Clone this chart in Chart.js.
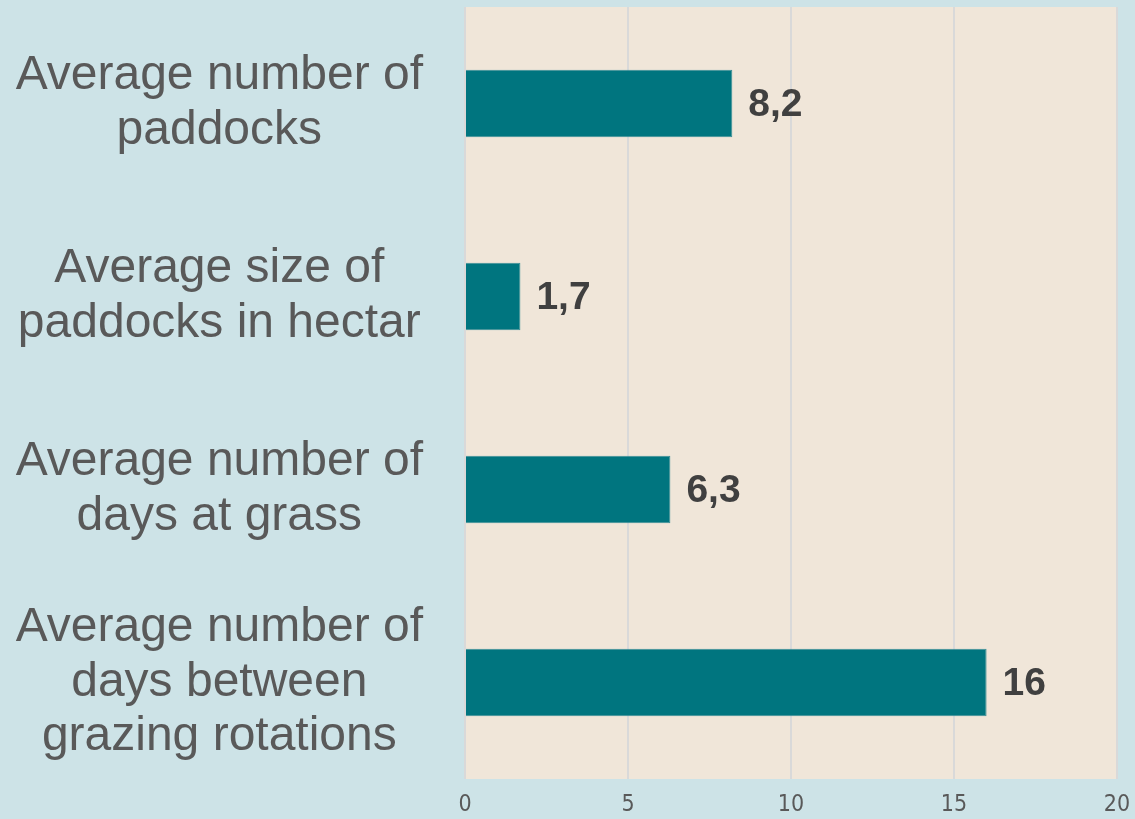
<!DOCTYPE html>
<html>
<head>
<meta charset="utf-8">
<script src="https://cdn.jsdelivr.net/npm/chart.js@4"></script>
<style>
  body { margin: 0; background: #cde3e7; }
  #wrap { width: 1135px; height: 819px; }
</style>
</head>
<body>
<div id="wrap"><canvas id="grazing" width="1135" height="819"></canvas></div>
<script>
const labels = [
  ["Average number of", "paddocks"],
  ["Average size of", "paddocks in hectar"],
  ["Average number of", "days at grass"],
  ["Average number of", "days between", "grazing rotations"]
];
const values = [8.2, 1.7, 6.3, 16];
const xTicks = [0, 5, 10, 15, 20];

// beige plot area behind the bars
const plotBg = {
  id: "plotBg",
  beforeDraw(chart) {
    const a = chart.chartArea;
    const ctx = chart.ctx;
    ctx.save();
    ctx.fillStyle = "#f0e6d9";
    ctx.fillRect(a.left, a.top, a.right - a.left, a.bottom - a.top);
    ctx.restore();
  }
};

// value labels at the end of each bar, decimal comma
const valueLabels = {
  id: "valueLabels",
  afterDatasetsDraw(chart) {
    const ctx = chart.ctx;
    const meta = chart.getDatasetMeta(0);
    ctx.save();
    ctx.font = "bold 39px 'Liberation Sans', Arial, sans-serif";
    ctx.fillStyle = "#404040";
    ctx.textAlign = "left";
    ctx.textBaseline = "middle";
    meta.data.forEach((bar, i) => {
      const txt = String(values[i]).replace(".", ",");
      ctx.fillText(txt, bar.x + 16, bar.y + 2);
    });
    ctx.restore();
  }
};

const data = {
  labels: labels,
  datasets: [
    {
      data: values,
      backgroundColor: "#00757f",
      borderColor: "#3a8f97",
      borderWidth: 1,
      barPercentage: 0.7,
      categoryPercentage: 0.5,
    },
  ],
};

const config = {
  type: "bar",
  data: data,
  options: {
    indexAxis: "y",
    responsive: false,
    animation: false,
    layout: { padding: { top: 7, right: 18, left: 0, bottom: 0 } },
    plugins: { legend: { display: false }, tooltip: { enabled: false } },
    scales: {
      x: {
        min: 0,
        max: 20,
        afterBuildTicks(scale) {
          scale.ticks = xTicks.map(v => ({ value: v }));
        },
        afterFit(scale) {
          scale.height = 40;
          scale.paddingLeft = 0;
          scale.paddingRight = 0;
        },
        grid: { color: "#d9d9d9", lineWidth: 2, drawTicks: false },
        border: { display: false },
        ticks: {
          padding: 12,
          color: "#595959",
          font: { size: 23, family: "'DejaVu Sans Condensed', 'Liberation Sans Narrow', 'Liberation Sans', sans-serif" },
        },
      },
      y: {
        afterFit(scale) {
          scale.width = 465;
          scale.paddingTop = 0;
          scale.paddingBottom = 0;
        },
        grid: { display: false, drawTicks: false },
        border: { display: false },
        ticks: {
          crossAlign: "center",
          padding: 42,
          color: "#595959",
          font: { size: 48, family: "'Liberation Sans', Arial, sans-serif", lineHeight: 1.14 },
        },
      },
    },
  },
  plugins: [plotBg, valueLabels],
};

const canvas = document.getElementById("grazing");
const chart = new Chart(canvas, config);
</script>
</body>
</html>
